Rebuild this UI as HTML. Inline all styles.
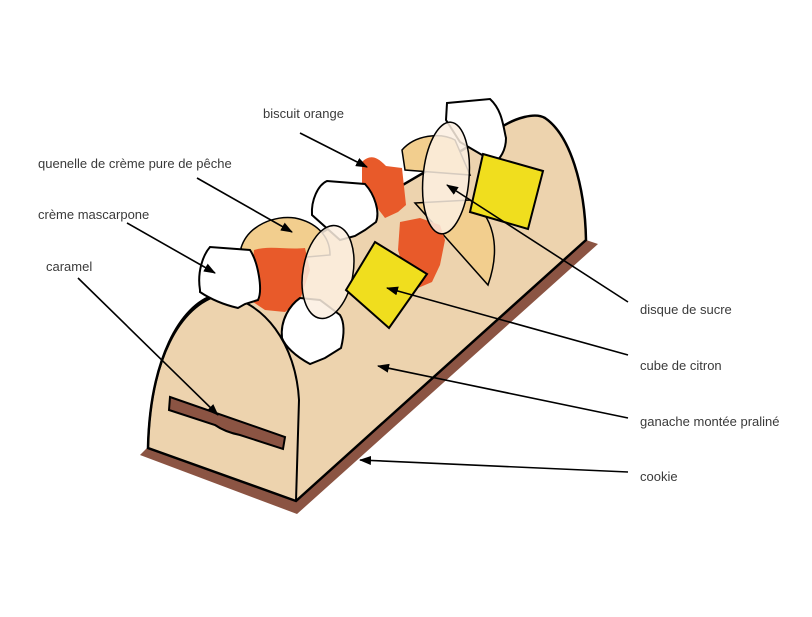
<!DOCTYPE html>
<html><head><meta charset="utf-8"><style>
html,body{margin:0;padding:0;background:#fff;}
svg text{font-family:"Liberation Sans",sans-serif;font-size:13px;fill:#3a3a3a;}
</style></head><body>
<svg width="812" height="612" viewBox="0 0 812 612" xmlns="http://www.w3.org/2000/svg">
<defs><marker id="a" markerWidth="12" markerHeight="9" refX="11" refY="4.5" orient="auto" markerUnits="userSpaceOnUse"><path d="M0,0 L12,4.5 L0,9 z" fill="#000"/></marker></defs>
<path d="M140,455 L297,514 L598,244 L586,240 L296,500 L148,447 z" fill="#8b5443"/>
<path d="M148,448 C150,360 180,305 215,295 L500,128 C515,118 535,112 545,118 C570,135 585,185 586,240 L296,501 z" fill="#edd3ae" stroke="#000" stroke-width="2.5"/>
<path d="M148,448 C150,360 180,305 220,295 C265,300 296,345 299,400 L296,501" fill="none" stroke="#000" stroke-width="2"/>
<path d="M170,397 L285,437 L283,449 L240,435 Q225,432 215,425 L169,410 z" fill="#8b5443" stroke="#000" stroke-width="2"/>
<path d="M241,248 C248,225 275,215 295,218 C315,222 330,235 330,255 L250,262 z" fill="#f2ce8e" stroke="#000" stroke-width="1.5"/>
<path d="M402,150 C415,135 440,132 455,140 L470,175 L405,170 z" fill="#f2ce8e" stroke="#000" stroke-width="1.5"/>
<path d="M415,203 L470,200 C492,215 502,245 488,285 z" fill="#f2ce8e" stroke="#000" stroke-width="1.5"/>
<path d="M254,250 C270,245 285,250 305,248 L310,270 L300,300 L285,312 L265,310 L250,300 z" fill="#e85a2a"/>
<path d="M362,162 C372,152 380,160 386,166 L402,168 L406,205 L398,212 L385,218 L375,205 L362,190 z" fill="#e85a2a"/>
<path d="M400,222 L420,218 L440,225 L445,240 L440,265 L432,282 L418,288 L405,275 L398,250 z" fill="#e85a2a"/>
<path d="M200,290 C197,272 203,255 210,247 L250,250 C258,262 263,290 258,300 L245,304 L238,308 C225,305 212,300 200,292 z" fill="#fff" stroke="#000" stroke-width="2"/>
<path d="M312,215 C311,200 318,185 327,181 L365,184 C375,195 380,212 376,222 L365,230 L355,236 L340,240 z" fill="#fff" stroke="#000" stroke-width="2"/>
<path d="M282,338 C280,320 290,305 300,298 L320,300 L340,315 C346,325 343,340 341,348 L325,358 L310,364 C295,356 285,346 282,338 z" fill="#fff" stroke="#000" stroke-width="2"/>
<path d="M447,103 L490,99 C502,110 503,125 506,138 C506,150 500,160 494,162 L460,142 L446,120 z" fill="#fff" stroke="#000" stroke-width="2"/>
<ellipse cx="328" cy="272" rx="25" ry="47" transform="rotate(10 328 272)" fill="#fbeee1" fill-opacity="0.85" stroke="#000" stroke-width="1.5"/>
<ellipse cx="446" cy="178" rx="23" ry="56" transform="rotate(5 446 178)" fill="#fbeee1" fill-opacity="0.85" stroke="#000" stroke-width="1.5"/>
<path d="M375,242 L427,274 L389,328 L346,290 z" fill="#f0de1e" stroke="#000" stroke-width="2"/>
<path d="M483,154 L543,171 L528,229 L470,212 z" fill="#f0de1e" stroke="#000" stroke-width="2"/>
<g stroke="#000" stroke-width="1.6" fill="none" marker-end="url(#a)">
<line x1="300" y1="133" x2="367" y2="167"/>
<line x1="197" y1="178" x2="292" y2="232"/>
<line x1="127" y1="223" x2="215" y2="273"/>
<line x1="78" y1="278" x2="218" y2="415"/>
<line x1="628" y1="302" x2="447" y2="185"/>
<line x1="628" y1="355" x2="387" y2="288"/>
<line x1="628" y1="418" x2="378" y2="366"/>
<line x1="628" y1="472" x2="360" y2="460"/>
</g>
<text x="263" y="118">biscuit orange</text>
<text x="38" y="168">quenelle de crème pure de pêche</text>
<text x="38" y="219">crème mascarpone</text>
<text x="46" y="271">caramel</text>
<text x="640" y="314">disque de sucre</text>
<text x="640" y="370">cube de citron</text>
<text x="640" y="426">ganache montée praliné</text>
<text x="640" y="481">cookie</text>
</svg>
</body></html>
